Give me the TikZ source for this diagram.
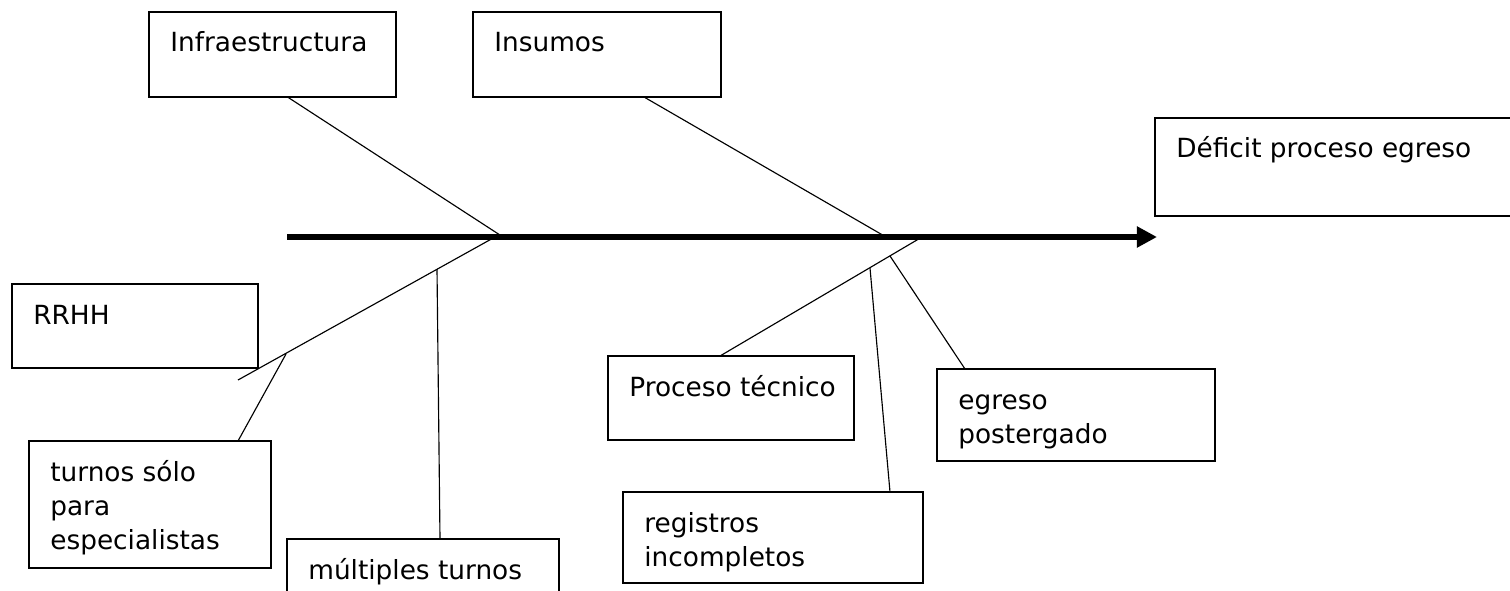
\documentclass[tikz,border=0pt]{standalone}
\usepackage{fontspec}
\setmainfont{DejaVu Sans}
\usetikzlibrary{arrows.meta,calc}

\begin{document}
\begin{tikzpicture}[x=0.02cm,y=-0.02cm,
    causa/.style={draw,line width=0.75pt,rectangle,inner sep=0pt,outer sep=0pt,
      anchor=north west},
    rotulo/.style={anchor=base west,inner sep=0pt,
      font=\fontsize{15}{19.6}\selectfont},
    espina/.style={line width=3.4pt,-{Triangle[length=11.4pt,width=11.4pt]}},
    hueso/.style={line width=0.65pt}]
  \useasboundingbox (0,0) rectangle (1510,591);
  \clip (0,0) rectangle (1510,591);
  % the boxes: causes and the effect
  \foreach \nm/\px/\py/\w/\h/\txt in {infra/149/12/247/85/{Infraestructura},
      insumos/473/12/248/85/{Insumos},
      deficit/1155/118/360/98/{D\'eficit proceso egreso},
      rrhh/12/284/246/84/{RRHH},
      turnos/29/441/242/127/{turnos s\'olo\\para\\especialistas},
      multi/287/539/272/80/{m\'ultiples turnos},
      proc/608/356/246/84/{Proceso t\'ecnico},
      reg/623/492/300/91/{registros\\incompletos},
      egr/937/369/278/92/{egreso\\postergado}}{
    \node[causa,minimum width=\w*0.02cm,minimum height=\h*0.02cm] (\nm) at (\px,\py) {};
    \node[rotulo] (\nm-t) at ($(\nm.north west)+(21,40)$)
      {\begin{tabular}[t]{@{}l@{}}\txt\end{tabular}};
  }
  % spine and the points where the bones meet it
  \coordinate (cola) at (287,237);
  \coordinate (efecto) at (1157,237);
  \coordinate (j1) at (503,237);
  \coordinate (j2) at (886,237);
  \coordinate (j3) at (495,237);
  \coordinate (j4) at (922,237);
  \coordinate (fin) at (238,380);
  \coordinate (k1) at (286,354);
  \coordinate (k2) at (437,269);
  \coordinate (k3) at (870,268);
  \coordinate (k4) at (890,256);
  % main bones
  \draw[hueso] ($(infra.south)+(15,0)$) -- (j1);
  \draw[hueso] ($(insumos.south)+(47,0)$) -- (j2);
  \draw[hueso] (j3) -- (fin);
  \draw[hueso] (j4) -- ($(proc.north)+(-11,0)$);
  % small bones
  \draw[hueso] (k1) -- ($(turnos.north)+(88,0)$);
  \draw[hueso] (k2) -- ($(multi.north)+(17,0)$);
  \draw[hueso] (k3) -- ($(reg.north)+(117,0)$);
  \draw[hueso] (k4) -- ($(egr.north)+(-111,0)$);
  \draw[espina] (cola) -- (efecto);
\end{tikzpicture}
\end{document}
